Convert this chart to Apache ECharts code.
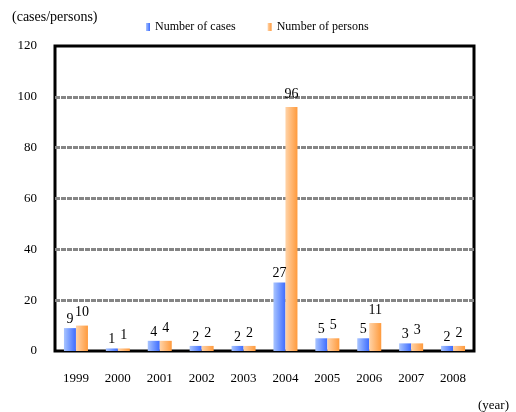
<!DOCTYPE html>
<html><head><meta charset="utf-8">
<script src="https://cdn.jsdelivr.net/npm/echarts@6/dist/echarts.min.js"></script>
<style>html,body{margin:0;padding:0;background:#fff}#c{width:516px;height:412px}</style>
</head><body><div id="c"></div>
<script>
var years = ['1999','2000','2001','2002','2003','2004','2005','2006','2007','2008'];
var cases = [9,1,4,2,2,27,5,5,3,2];
var persons = [10,1,4,2,2,96,5,11,3,2];
var yTicks = {min:0, max:120, interval:20};
var FONT = '"Liberation Serif", "DejaVu Serif", serif';
var chart = echarts.init(document.getElementById('c'));
function grad(a,b){return new echarts.graphic.LinearGradient(0,0,1,0,[{offset:0,color:a},{offset:1,color:b}]);}
chart.setOption({
  animation:false,
  textStyle:{fontFamily:FONT},
  title:[{text:'(cases/persons)',left:7,top:5,textStyle:{fontFamily:FONT,fontSize:14,fontWeight:'normal',color:'#000'}},
         {text:'(year)',right:2,top:394,textStyle:{fontFamily:FONT,fontSize:13,fontWeight:'normal',color:'#000'}}],
  legend:{left:141,top:16,itemWidth:4,itemHeight:8,itemGap:32,icon:'rect',
    textStyle:{fontFamily:FONT,fontSize:12,color:'#000'},data:['Number of cases','Number of persons']},
  grid:{left:55,right:42,top:46,bottom:61,show:true,borderColor:'#000',borderWidth:3,backgroundColor:'transparent'},
  xAxis:{type:'category',data:years,axisLine:{show:false},axisTick:{show:false},
    axisLabel:{fontFamily:FONT,fontSize:13,color:'#000',margin:21}},
  yAxis:{type:'value',min:yTicks.min,max:yTicks.max,interval:yTicks.interval,
    axisLine:{show:false},axisTick:{show:false},
    axisLabel:{fontFamily:FONT,fontSize:13,color:'#000',margin:18},
    splitLine:{show:true,showMinLine:false,showMaxLine:false,lineStyle:{color:'#858585',type:[5,1],width:3}}},
  series:[
    {name:'Number of cases',type:'bar',data:cases,barWidth:12,barGap:'0%',
     itemStyle:{color:grad('#a8c4ff','#3d6cff')},
     label:{show:true,position:'top',distance:2,fontFamily:FONT,fontSize:14,color:'#000'}},
    {name:'Number of persons',type:'bar',data:persons,barWidth:12,barGap:'0%',
     itemStyle:{color:grad('#ffd3a8','#ff9a3c')},
     label:{show:true,position:'top',distance:6,fontFamily:FONT,fontSize:14,color:'#000'}}
  ]
});
</script></body></html>
